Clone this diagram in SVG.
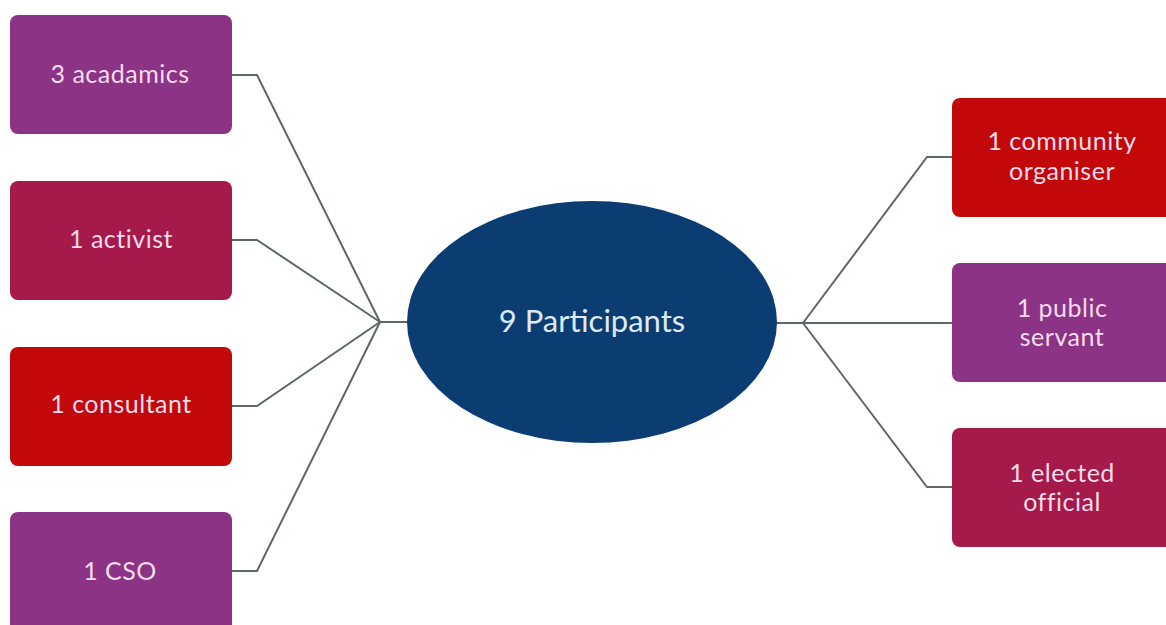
<svg xmlns="http://www.w3.org/2000/svg" width="1166" height="625" viewBox="0 0 1166 625">
<style>
.box{stroke:none}
.purple{fill:#8c3385}
.crimson{fill:#a51a4a}
.red{fill:#c20808}
.lbl{font-family:Lato,"Liberation Sans",sans-serif;font-size:25px;letter-spacing:0.5px;fill:#f6dcec;text-anchor:middle}
.conn{fill:none;stroke:#5d666a;stroke-width:2}
</style>
<rect width="1166" height="625" fill="#ffffff"/>
<g id="connectors">
<polyline class="conn" points="232,75 257,75 380,322"/>
<polyline class="conn" points="232,240 257,240 380,322"/>
<polyline class="conn" points="232,406 257,406 380,322"/>
<polyline class="conn" points="232,571 257,571 380,322"/>
<line class="conn" x1="380" y1="322" x2="408" y2="322"/>
<line class="conn" x1="776" y1="323" x2="803" y2="323"/>
<polyline class="conn" points="803,323 927,157 952,157"/>
<line class="conn" x1="803" y1="323" x2="952" y2="323"/>
<polyline class="conn" points="803,323 927,487 952,487"/>
</g>
<g id="center">
<ellipse cx="592" cy="322" rx="185" ry="121" fill="#0b3d73"/>
<text x="592" y="332" style="font-family:Lato,'Liberation Sans',sans-serif;font-size:31px;fill:#dce9f6;text-anchor:middle">9 Participants</text>
</g>
<g id="academics">
<rect class="box purple" x="10" y="15" width="222" height="119" rx="8"/>
<text class="lbl" x="120" y="83">3 acadamics</text>
</g>
<g id="activist">
<rect class="box crimson" x="10" y="181" width="222" height="119" rx="8"/>
<text class="lbl" x="121" y="248">1 activist</text>
</g>
<g id="consultant">
<rect class="box red" x="10" y="347" width="222" height="119" rx="8"/>
<text class="lbl" x="121" y="413">1 consultant</text>
</g>
<g id="cso">
<rect class="box purple" x="10" y="512" width="222" height="125" rx="8"/>
<text class="lbl" x="120" y="580">1 CSO</text>
</g>
<g id="community">
<rect class="box red" x="952" y="98" width="222" height="119" rx="8"/>
<text class="lbl" x="1062" y="150">1 community</text>
<text class="lbl" x="1062" y="180">organiser</text>
</g>
<g id="public">
<rect class="box purple" x="952" y="263" width="222" height="119" rx="8"/>
<text class="lbl" x="1062" y="317">1 public</text>
<text class="lbl" x="1062" y="346">servant</text>
</g>
<g id="elected">
<rect class="box crimson" x="952" y="428" width="222" height="119" rx="8"/>
<text class="lbl" x="1062" y="482">1 elected</text>
<text class="lbl" x="1062" y="511">official</text>
</g>
</svg>
